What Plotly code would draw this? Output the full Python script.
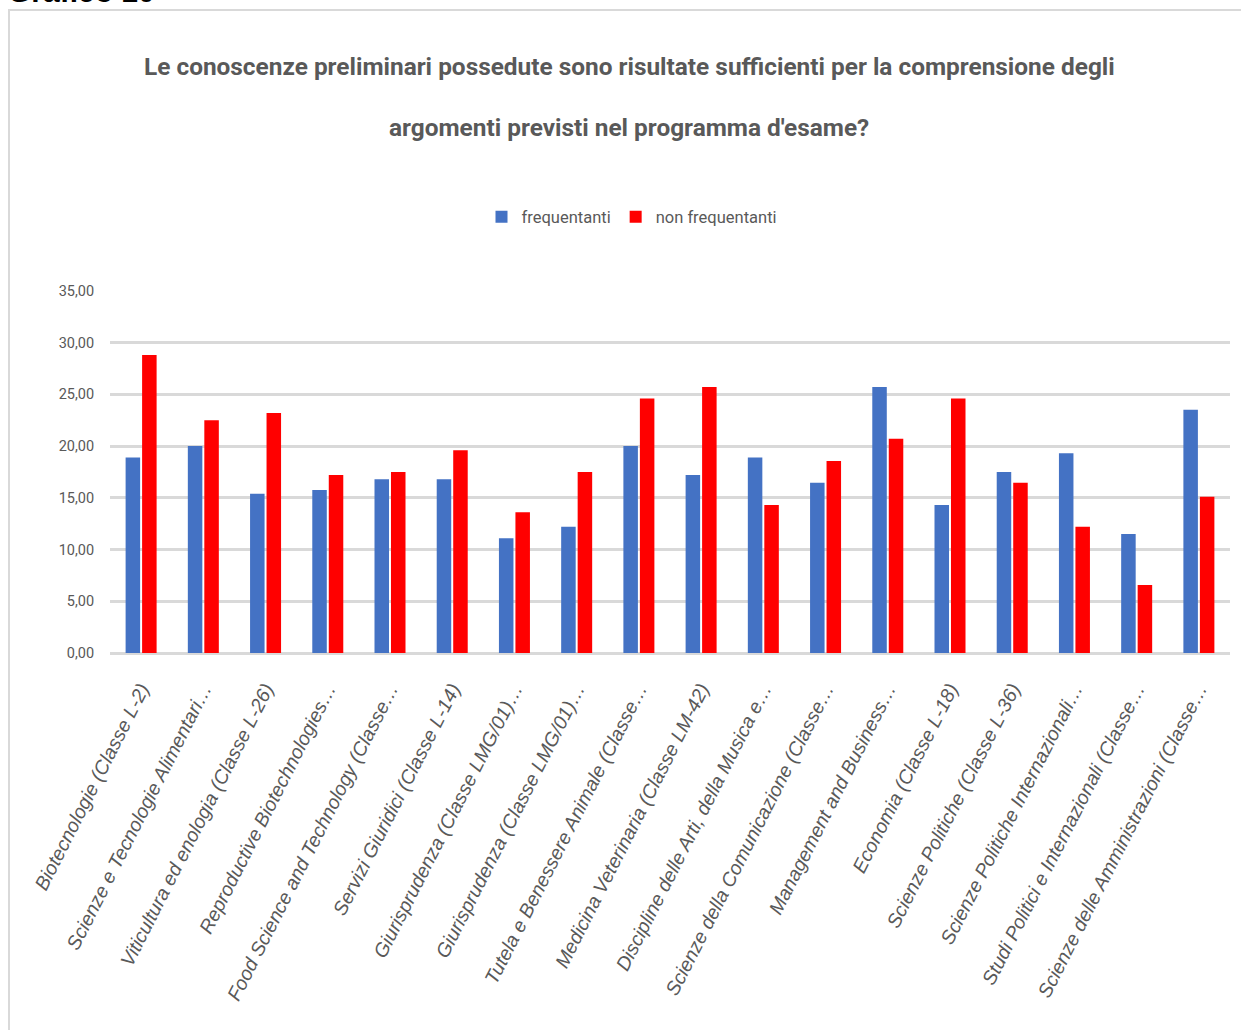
import plotly.graph_objects as go

categories = [
    "Biotecnologie (Classe L-2)",
    "Scienze e Tecnologie Alimentari…",
    "Viticultura ed enologia (Classe L-26)",
    "Reproductive Biotechnologies…",
    "Food Science and Technology (Classe…",
    "Servizi Giuridici (Classe L-14)",
    "Giurisprudenza (Classe LMG/01)…",
    "Giurisprudenza (Classe LMG/01)…",
    "Tutela e Benessere Animale (Classe…",
    "Medicina Veterinaria (Classe LM-42)",
    "Discipline delle Arti, della Musica e…",
    "Scienze della Comunicazione (Classe…",
    "Management and Business…",
    "Economia (Classe L-18)",
    "Scienze Politiche (Classe L-36)",
    "Scienze Politiche Internazionali…",
    "Studi Politici e Internazionali (Classe…",
    "Scienze delle Amministrazioni (Classe…",
]
frequentanti = [18.9, 20.0, 15.4, 15.75, 16.8, 16.8, 11.1, 12.2, 20.0, 17.2,
                18.9, 16.45, 25.7, 14.3, 17.5, 19.3, 11.5, 23.5]
non_frequentanti = [28.8, 22.5, 23.2, 17.2, 17.5, 19.6, 13.6, 17.5, 24.6, 25.7,
                    14.3, 18.55, 20.7, 24.6, 16.45, 12.2, 6.57, 15.1]
y_ticks = [0, 5, 10, 15, 20, 25, 30, 35]
title_lines = [
    "Le conoscenze preliminari possedute sono risultate sufficienti per la comprensione degli",
    "argomenti previsti nel programma d'esame?",
]

positions = list(range(len(categories)))
TXT = "#595959"
TITLE_FONT = "Roboto, Lato, sans-serif"

fig = go.Figure()
fig.add_trace(go.Bar(x=positions, y=frequentanti, name="frequentanti",
                     marker=dict(color="#4472C4", line=dict(width=0))))
fig.add_trace(go.Bar(x=positions, y=non_frequentanti, name="non frequentanti",
                     marker=dict(color="#FF0000", line=dict(width=0))))

W, H = 1241, 1030
L, R, T, B = 110, 11, 290, 377
ph = H - T - B
pw = W - L - R

def py(p):
    return (H - B - p) / ph

def px(p):
    return (p - L) / pw

annotations = [
    dict(text=title_lines[0], x=px(629), y=py(67), xref="paper", yref="paper",
         xanchor="center", yanchor="middle", showarrow=False,
         font=dict(family=TITLE_FONT, size=24.4, color=TXT, weight="bold")),
    dict(text=title_lines[1], x=px(629), y=py(127), xref="paper", yref="paper",
         xanchor="center", yanchor="middle", showarrow=False,
         font=dict(family=TITLE_FONT, size=24.4, color=TXT, weight="bold")),
    dict(text="Grafico 10", x=px(6), y=py(10), xref="paper", yref="paper",
         xanchor="left", yanchor="bottom", showarrow=False,
         font=dict(family="Liberation Sans, Arial, sans-serif", size=30,
                   color="#000000", weight="bold")),
]

fig.update_layout(
    width=W, height=H,
    margin=dict(l=L, r=R, t=T, b=B, autoexpand=False),
    paper_bgcolor="white", plot_bgcolor="white",
    barmode="group", bargap=0.47, bargroupgap=0.12,
    showlegend=True,
    legend=dict(orientation="h", x=px(632), xanchor="center",
                y=py(217), yanchor="middle",
                font=dict(family=TITLE_FONT, size=16.5, color=TXT),
                itemwidth=30, tracegroupgap=0),
    annotations=annotations,
    shapes=[dict(type="rect", xref="paper", yref="paper",
                 x0=px(9), x1=px(1260), y0=py(1050), y1=py(10),
                 line=dict(color="#D9D9D9", width=2), layer="below")],
    xaxis=dict(tickvals=positions, ticktext=categories, tickangle=-63,
               range=[-0.5, len(categories) - 0.5],
               showgrid=False, zeroline=False, showline=False,
               tickfont=dict(family="Liberation Sans, Arial, sans-serif", size=19.5,
                             color=TXT, style="italic"),
               automargin=False, ticks="outside", ticklen=16,
               tickcolor="rgba(0,0,0,0)"),
    yaxis=dict(range=[0, 35.08], tickvals=y_ticks, tickformat=".2f",
               showgrid=True, gridcolor="#D9D9D9", gridwidth=2.5,
               zeroline=True, zerolinecolor="#D9D9D9", zerolinewidth=2.5,
               showline=False, ticks="outside", ticklen=12,
               tickcolor="rgba(0,0,0,0)",
               tickfont=dict(family=TITLE_FONT, size=14.5, color=TXT),
               automargin=False),
    separators=",.",
)

fig.write_html("out.html", config={"displayModeBar": False},
               post_script="document.body.style.margin='0';")
